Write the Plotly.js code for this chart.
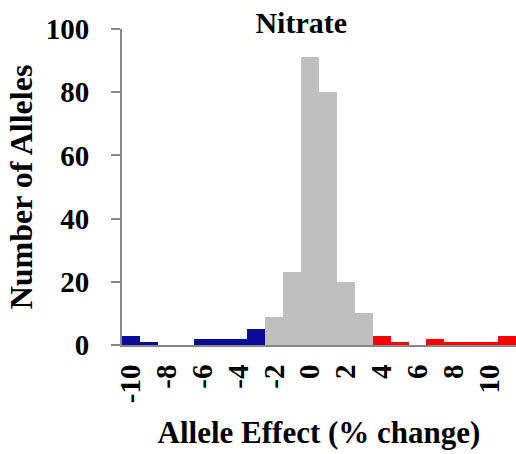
<!DOCTYPE html>
<html>
<head>
<meta charset="utf-8">
<script src="https://cdn.plot.ly/plotly-3.0.1.min.js"></script>
<style>
  html, body { margin: 0; padding: 0; background: #fff; }
  #chart { width: 516px; height: 454px; }
</style>
</head>
<body>
<div id="chart"></div>
<script>
// Allele effect bins (% change) and number of alleles in each bin
const effects = [-10, -9, -8, -7, -6, -5, -4, -3, -2, -1, 0, 1, 2, 3, 4, 5, 6, 7, 8, 9, 10, 11];
const counts  = [  3,  1,  0,  0,  2,  2,  2,  5,  9, 23, 91, 80, 20, 10, 3, 1, 0, 2, 1, 1, 1, 3];

// Labelled ticks on the effect axis
const tickLabels = [-10, -8, -6, -4, -2, 0, 2, 4, 6, 8, 10];

// Bins at or below this effect are decreasing alleles, at or above the next are increasing
const lowCut = -3;
const highCut = 4;

const FONT = 'Liberation Serif';
const AXIS_GREY = '#878787';

function pick(test) {
  const x = [], y = [];
  effects.forEach((e, i) => { if (test(e)) { x.push(e); y.push(counts[i]); } });
  return { x, y };
}

const lowBins = pick(e => e <= lowCut);
const midBins = pick(e => e > lowCut && e < highCut);
const highBins = pick(e => e >= highCut);

const traces = [
  { type: 'bar', x: lowBins.x, y: lowBins.y, marker: { color: '#0a0a99', line: { width: 0 } }, hoverinfo: 'x+y' },
  { type: 'bar', x: midBins.x, y: midBins.y, marker: { color: '#bfbfbf', line: { width: 0 } }, hoverinfo: 'x+y' },
  { type: 'bar', x: highBins.x, y: highBins.y, marker: { color: '#ff0000', line: { width: 0 } }, hoverinfo: 'x+y' }
];

const xRange = [effects[0] - 0.5, effects[effects.length - 1] + 0.5];
// tick marks sit on the bin edges
const binEdges = effects.map(e => e - 0.5).concat([effects[effects.length - 1] + 0.5]);

function textFont(size) {
  return { family: FONT, size: size, weight: 'bold', color: '#000000' };
}

const layout = {
  width: 516,
  height: 454,
  margin: { l: 122, r: 0, t: 29, b: 109, pad: 0 },
  paper_bgcolor: '#ffffff',
  plot_bgcolor: '#ffffff',
  showlegend: false,
  barmode: 'overlay',
  bargap: 0,
  title: {
    text: 'Nitrate',
    font: textFont(30),
    xref: 'paper', x: 0.455, xanchor: 'center',
    yref: 'container', y: 1 - 22 / 454, yanchor: 'middle'
  },
  xaxis: {
    range: xRange,
    tickmode: 'array',
    tickvals: tickLabels,
    ticktext: tickLabels.map(String),
    tickangle: -90,
    ticks: '',
    ticklabelstandoff: 6,
    showline: true, linecolor: AXIS_GREY, linewidth: 2,
    showgrid: false, zeroline: false,
    tickfont: textFont(29),
    title: { text: 'Allele Effect (% change)', font: textFont(31), standoff: 19 }
  },
  xaxis2: {
    overlaying: 'x', anchor: 'y', side: 'bottom',
    range: xRange,
    tickmode: 'array',
    tickvals: binEdges,
    ticks: 'outside', ticklen: 9, tickwidth: 2, tickcolor: AXIS_GREY,
    showticklabels: false,
    showline: false, showgrid: false, zeroline: false
  },
  yaxis: {
    range: [0, 100],
    tickmode: 'linear', tick0: 0, dtick: 20,
    ticks: 'outside', ticklen: 9, tickwidth: 2, tickcolor: AXIS_GREY,
    ticklabelstandoff: 16,
    showline: true, linecolor: AXIS_GREY, linewidth: 2,
    showgrid: false, zeroline: false,
    tickfont: textFont(29),
    title: { text: 'Number of Alleles', font: textFont(32), standoff: 4 }
  }
};

function draw() {
  Plotly.newPlot('chart', traces, layout, { displayModeBar: false, staticPlot: true });
}

// make sure the serif face is ready before the text is measured
if (document.fonts && document.fonts.load) {
  document.fonts.load('bold 29px "' + FONT + '"').then(draw, draw);
} else {
  draw();
}
</script>
</body>
</html>
